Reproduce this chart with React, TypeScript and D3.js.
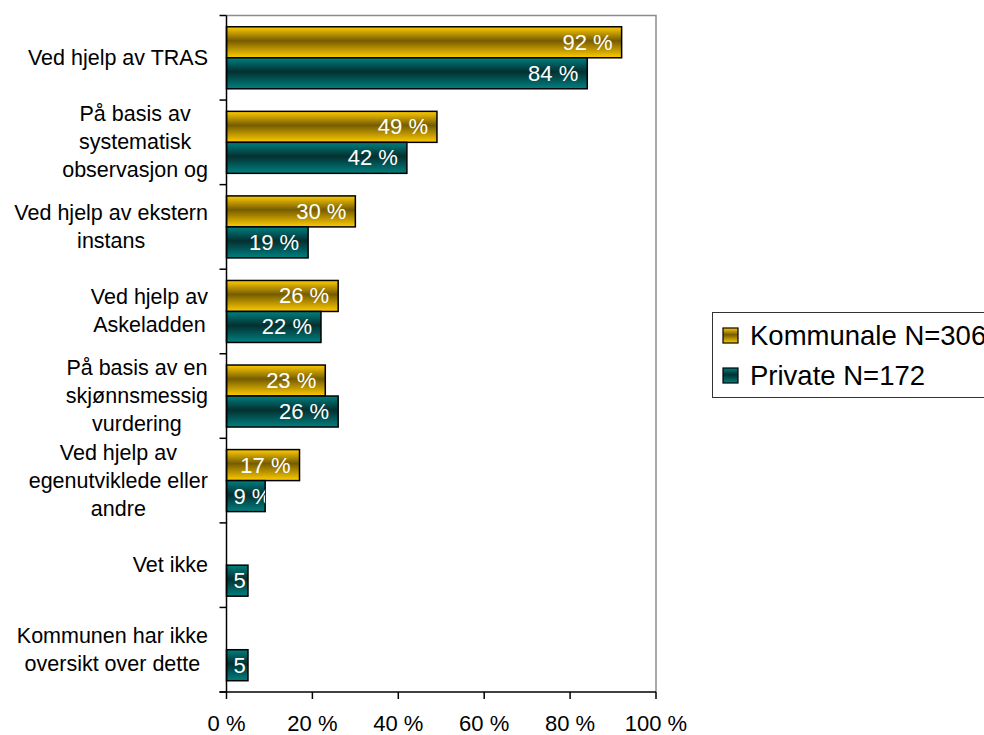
import React, { useEffect, useRef } from 'react';
import * as d3 from 'd3';

// category labels, already wrapped the way the chart shows them
const categories: string[][] = [
  ['Ved hjelp av TRAS'],
  ['På basis av', 'systematisk', 'observasjon og'],
  ['Ved hjelp av ekstern', 'instans'],
  ['Ved hjelp av', 'Askeladden'],
  ['På basis av en', 'skjønnsmessig', 'vurdering'],
  ['Ved hjelp av', 'egenutviklede eller', 'andre'],
  ['Vet ikke'],
  ['Kommunen har ikke', 'oversikt over dette'],
];
const kommunale: (number | null)[] = [92, 49, 30, 26, 23, 17, null, null];
const privat: (number | null)[] = [84, 42, 19, 22, 26, 9, 5, 5];
const seriesNames = ['Kommunale N=306', 'Private N=172'];
const xTicks = [0, 20, 40, 60, 80, 100];

const FONT = "'Liberation Sans', Arial, sans-serif";

export default function App() {
  const ref = useRef<SVGSVGElement>(null);

  useEffect(() => {
    const svg = d3.select(ref.current);
    svg.selectAll('*').remove();

    const left = 226.5;
    const right = 656;
    const top = 15.5;
    const bottom = 692;

    const x = d3.scaleLinear().domain([0, 100]).range([left, right]);
    const keys = categories.map((_, i) => String(i));
    const y = d3.scaleBand().domain(keys).range([top, bottom]).padding(0);
    const sub = d3
      .scaleBand()
      .domain(['k', 'p'])
      .range([0, y.bandwidth()])
      .paddingInner(0)
      .paddingOuter(0.364);

    // gradients: light at the edges, dark in the middle
    const defs = svg.append('defs');
    const grad = (id: string, light: string, dark: string) => {
      const g = defs
        .append('linearGradient')
        .attr('id', id)
        .attr('x1', 0)
        .attr('y1', 0)
        .attr('x2', 0)
        .attr('y2', 1);
      g.append('stop').attr('offset', '0%').attr('stop-color', light);
      g.append('stop').attr('offset', '45%').attr('stop-color', dark);
      g.append('stop').attr('offset', '100%').attr('stop-color', light);
    };
    grad('gradK', '#FFCC00', '#765C00');
    grad('gradP', '#008080', '#043030');

    // plot frame (grey top + right)
    svg
      .append('path')
      .attr('d', `M${left},${top}H${right}V${bottom}`)
      .attr('fill', 'none')
      .attr('stroke', '#8c8c8c')
      .attr('stroke-width', 1.5);

    // bars
    const rows: { key: string; s: string; v: number; fill: string }[] = [];
    keys.forEach((k, i) => {
      if (kommunale[i] != null) rows.push({ key: k, s: 'k', v: kommunale[i]!, fill: 'url(#gradK)' });
      if (privat[i] != null) rows.push({ key: k, s: 'p', v: privat[i]!, fill: 'url(#gradP)' });
    });

    const g = svg.append('g');
    rows.forEach((d, j) => {
      const by = y(d.key)! + sub(d.s)!;
      const bw = x(d.v) - x(0);
      const bh = sub.bandwidth();
      defs
        .append('clipPath')
        .attr('id', `clip${j}`)
        .append('rect')
        .attr('x', x(0))
        .attr('y', by)
        .attr('width', bw)
        .attr('height', bh);
      g.append('rect')
        .attr('x', x(0))
        .attr('y', by)
        .attr('width', bw)
        .attr('height', bh)
        .attr('fill', d.fill)
        .attr('stroke', '#000')
        .attr('stroke-width', 1.5);
      const t = g
        .append('text')
        .attr('clip-path', `url(#clip${j})`)
        .attr('y', by + bh / 2 + 7.5)
        .attr('fill', '#fff')
        .attr('font-family', FONT)
        .attr('font-size', 22)
        .text(`${d.v} %`);
      const tw = (t.node() as SVGTextElement).getComputedTextLength();
      if (tw + 14 < bw) {
        t.attr('x', x(d.v) - 9).attr('text-anchor', 'end');
      } else {
        t.attr('x', x(0) + 7).attr('text-anchor', 'start');
      }
    });

    // y axis
    svg
      .append('line')
      .attr('x1', left)
      .attr('x2', left)
      .attr('y1', top)
      .attr('y2', bottom)
      .attr('stroke', '#000')
      .attr('stroke-width', 1.5);
    d3.range(categories.length + 1).forEach((i) => {
      const ty = top + i * y.step();
      svg
        .append('line')
        .attr('x1', left - 7)
        .attr('x2', left)
        .attr('y1', ty)
        .attr('y2', ty)
        .attr('stroke', '#000')
        .attr('stroke-width', 1.5);
    });

    // category labels: lines centred, block right-aligned
    const labelRight = 208;
    const lineH = 28;
    categories.forEach((lines, i) => {
      const cy = y(String(i))! + y.bandwidth() / 2;
      const grp = svg.append('g');
      const texts = lines.map((ln, li) =>
        grp
          .append('text')
          .attr('y', cy + 7 + (li - (lines.length - 1) / 2) * lineH)
          .attr('font-family', FONT)
          .attr('font-size', 21.5)
          .attr('fill', '#000')
          .attr('text-anchor', 'middle')
          .text(ln),
      );
      const maxW = d3.max(texts, (t) => (t.node() as SVGTextElement).getComputedTextLength()) || 0;
      texts.forEach((t) => t.attr('x', labelRight - maxW / 2));
    });

    // x axis
    const xAxis = svg.append('g');
    xAxis
      .append('line')
      .attr('x1', left - 7)
      .attr('x2', right)
      .attr('y1', bottom)
      .attr('y2', bottom)
      .attr('stroke', '#000')
      .attr('stroke-width', 1.5);
    xTicks.forEach((v) => {
      xAxis
        .append('line')
        .attr('x1', x(v))
        .attr('x2', x(v))
        .attr('y1', bottom)
        .attr('y2', bottom + 7)
        .attr('stroke', '#000')
        .attr('stroke-width', 1.5);
      xAxis
        .append('text')
        .attr('x', x(v))
        .attr('y', 731)
        .attr('text-anchor', 'middle')
        .attr('font-family', FONT)
        .attr('font-size', 22)
        .attr('fill', '#000')
        .text(`${v} %`);
    });

    // legend
    const lg = svg.append('g');
    lg.append('rect')
      .attr('x', 712.5)
      .attr('y', 312.5)
      .attr('width', 300)
      .attr('height', 85)
      .attr('fill', '#fff')
      .attr('stroke', '#333')
      .attr('stroke-width', 1);
    seriesNames.forEach((name, i) => {
      const ly = 328 + i * 40;
      lg.append('rect')
        .attr('x', 723)
        .attr('y', ly)
        .attr('width', 15)
        .attr('height', 15)
        .attr('fill', i === 0 ? 'url(#gradK)' : 'url(#gradP)')
        .attr('stroke', '#000')
        .attr('stroke-width', 1.2);
      lg.append('text')
        .attr('x', 750)
        .attr('y', ly + 17)
        .attr('font-family', FONT)
        .attr('font-size', 27.5)
        .attr('fill', '#000')
        .text(name);
    });
  }, []);

  return (
    <div style={{ position: 'absolute', left: 0, top: 0 }}>
      <svg ref={ref} width={984} height={735} style={{ display: 'block' }} />
    </div>
  );
}
